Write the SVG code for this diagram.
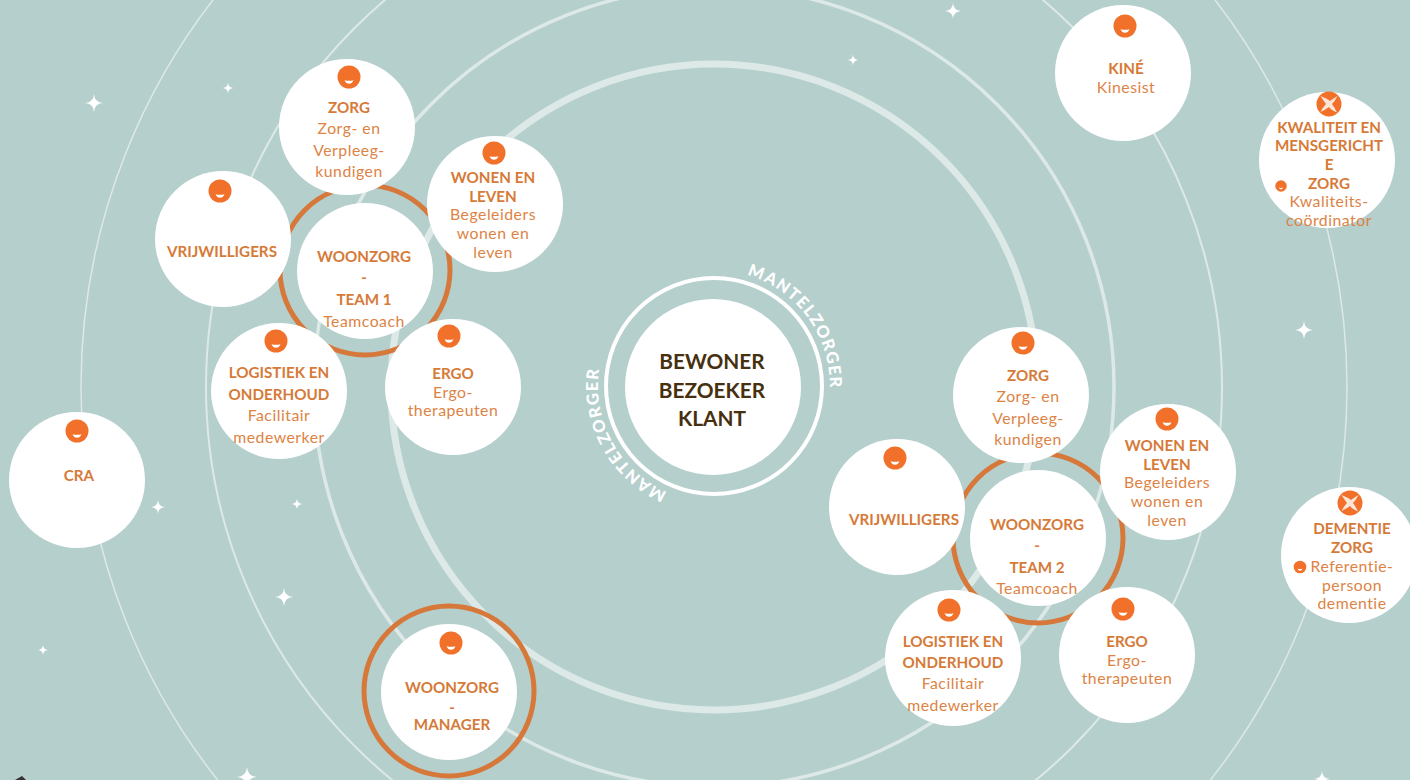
<svg xmlns="http://www.w3.org/2000/svg" width="1410" height="780" viewBox="0 0 1410 780">
<style>
text{font-family:Lato,"Liberation Sans",sans-serif;text-anchor:middle;fill:#dd8345;font-size:15.800px;letter-spacing:.5px}
.b{font-weight:700;font-size:15.2px;fill:#d67a38;letter-spacing:0}
.c{fill:#fff}
.ic{fill:#f1702a}
.r{fill:none;stroke:#dce9e7}
.or{fill:none;stroke:#d6783a;stroke-width:5}
.m{fill:#46300f;font-weight:700;font-size:20.8px;letter-spacing:0}
.mz{fill:#fff;font-weight:900;font-size:16.5px;text-anchor:start;letter-spacing:0}
.s{fill:#fff}
</style>
<defs>
<g id="smile"><circle r="11.5" class="ic"/><path d="M-4.500 3.200Q0 4.300 4.500 3.200Q3 6.800 0 6.800Q-3 6.800 -4.500 3.200Z" class="c"/></g>
<g id="cross"><circle r="12.500" class="ic"/><path d="M-8.500 -8Q-1 -5 1 -3Q5 -6 8.500 -8Q6 -3 3 0Q6 4 8 8.500Q2 6 0 3Q-4 6 -8.500 8Q-6 3 -3 0Q-6 -4 -8.500 -8Z" fill="#fbe6d8"/></g>
<path id="star" d="M0 -1Q.06 -.06 1 0Q.06 .06 0 1Q-.06 .06 -1 0Q-.06 -.06 0 -1Z" class="s"/>
<path id="a1" d="M747.100 274.800A116 116 0 0 1 830 387"/>
<path id="a2" d="M667 492A116 116 0 0 1 599.500 367.400"/>
</defs>
<rect width="1410" height="780" fill="#b5cfcd"/>
<g id="rings">
<circle class="r" cx="714" cy="387" r="323" stroke-width="7"/>
<circle class="r" cx="714" cy="387" r="400" stroke-width="3.500"/>
<circle class="r" cx="714" cy="387" r="508" stroke-width="2"/>
<circle class="r" cx="714" cy="387" r="633" stroke-width="1.500"/>
<circle cx="714" cy="386" r="108" fill="none" stroke="#fff" stroke-width="4"/>
</g>
<g id="stars">
<use href="#star" transform="translate(94 103) scale(9)"/>
<use href="#star" transform="translate(228 88) scale(5.500)"/>
<use href="#star" transform="translate(953 11) scale(8)"/>
<use href="#star" transform="translate(853 60) scale(5.500)"/>
<use href="#star" transform="translate(1304 330) scale(9)"/>
<use href="#star" transform="translate(158 507) scale(7)"/>
<use href="#star" transform="translate(297 504) scale(5.500)"/>
<use href="#star" transform="translate(284 597) scale(9)"/>
<use href="#star" transform="translate(43 650) scale(5)"/>
<use href="#star" transform="translate(247 777) scale(10)"/>
<use href="#star" transform="translate(1322 779) scale(8)"/>
</g>
<path d="M15 780L22 776L26 780Z" fill="#333"/>
<g id="mantelzorger">
<text class="mz"><textPath href="#a1" textLength="150" lengthAdjust="spacing">MANTELZORGER</textPath></text>
<text class="mz"><textPath href="#a2" textLength="150" lengthAdjust="spacing">MANTELZORGER</textPath></text>
</g>
<g id="center"><circle class="c" cx="713" cy="387" r="88"/>
<text class="m" x="712" y="369">BEWONER</text><text class="m" x="712" y="398">BEZOEKER</text><text class="m" x="712" y="426">KLANT</text></g>

<g id="team1"><circle class="or" cx="365" cy="270" r="85"/><circle class="c" cx="365" cy="271" r="68"/>
<text class="b" x="364" y="262">WOONZORG</text><text class="b" x="364" y="283">-</text><text class="b" x="364" y="305">TEAM 1</text><text x="364" y="327">Teamcoach</text></g>
<g id="zorg1"><circle class="c" cx="347" cy="127" r="68"/><use href="#smile" x="349" y="77"/>
<text class="b" x="349" y="113">ZORG</text><text x="349" y="134">Zorg- en</text><text x="349" y="156">Verpleeg-</text><text x="349" y="177">kundigen</text></g>
<g id="vrijw1"><circle class="c" cx="223" cy="239" r="68"/><use href="#smile" x="220" y="191"/><text class="b" x="222" y="257">VRIJWILLIGERS</text></g>
<g id="wonen1"><circle class="c" cx="495" cy="204" r="68"/><use href="#smile" x="494" y="153"/>
<text class="b" x="493" y="183">WONEN EN</text><text class="b" x="493" y="202">LEVEN</text><text x="493" y="220">Begeleiders</text><text x="493" y="239">wonen en</text><text x="493" y="258">leven</text></g>
<g id="logi1"><circle class="c" cx="279" cy="391" r="68"/><use href="#smile" x="276" y="341"/>
<text class="b" x="279" y="378">LOGISTIEK EN</text><text class="b" x="279" y="400">ONDERHOUD</text><text x="279" y="421">Facilitair</text><text x="279" y="443">medewerker</text></g>
<g id="ergo1"><circle class="c" cx="453" cy="387" r="68"/><use href="#smile" x="449" y="336"/>
<text class="b" x="453" y="379">ERGO</text><text x="453" y="398">Ergo-</text><text x="453" y="416">therapeuten</text></g>
<g id="cra"><circle class="c" cx="77" cy="480" r="68"/><use href="#smile" x="77" y="431"/><text class="b" x="79" y="481">CRA</text></g>
<g id="manager"><circle class="or" cx="449" cy="691" r="85"/><circle class="c" cx="449" cy="692" r="68"/><use href="#smile" x="451" y="643"/>
<text class="b" x="452" y="693">WOONZORG</text><text class="b" x="452" y="713">-</text><text class="b" x="452" y="730">MANAGER</text></g>

<g id="team2"><circle class="or" cx="1038" cy="538" r="85"/><circle class="c" cx="1038" cy="538" r="68"/>
<text class="b" x="1037" y="530">WOONZORG</text><text class="b" x="1037" y="551">-</text><text class="b" x="1037" y="573">TEAM 2</text><text x="1037" y="594">Teamcoach</text></g>
<g id="zorg2"><circle class="c" cx="1021" cy="395" r="68"/><use href="#smile" x="1023" y="343"/>
<text class="b" x="1028" y="381">ZORG</text><text x="1028" y="402">Zorg- en</text><text x="1028" y="424">Verpleeg-</text><text x="1028" y="445">kundigen</text></g>
<g id="vrijw2"><circle class="c" cx="897" cy="507" r="68"/><use href="#smile" x="895" y="458"/><text class="b" x="904" y="525">VRIJWILLIGERS</text></g>
<g id="wonen2"><circle class="c" cx="1168" cy="472" r="68"/><use href="#smile" x="1167" y="419"/>
<text class="b" x="1167" y="451">WONEN EN</text><text class="b" x="1167" y="470">LEVEN</text><text x="1167" y="488">Begeleiders</text><text x="1167" y="507">wonen en</text><text x="1167" y="526">leven</text></g>
<g id="logi2"><circle class="c" cx="953" cy="658" r="68"/><use href="#smile" x="949" y="610"/>
<text class="b" x="953" y="647">LOGISTIEK EN</text><text class="b" x="953" y="668">ONDERHOUD</text><text x="953" y="689">Facilitair</text><text x="953" y="711">medewerker</text></g>
<g id="ergo2"><circle class="c" cx="1127" cy="655" r="68"/><use href="#smile" x="1123" y="609"/>
<text class="b" x="1127" y="647">ERGO</text><text x="1127" y="666">Ergo-</text><text x="1127" y="684">therapeuten</text></g>
<g id="kine"><circle class="c" cx="1123" cy="73" r="68"/><use href="#smile" x="1125" y="26"/><text class="b" x="1126" y="74">KINÉ</text><text x="1126" y="93">Kinesist</text></g>
<g id="kwal"><circle class="c" cx="1327" cy="160" r="68"/><use href="#cross" x="1329" y="104"/><use href="#smile" transform="translate(1281 186) scale(.5)"/>
<text class="b" x="1329" y="133">KWALITEIT EN</text><text class="b" x="1329" y="151">MENSGERICHT</text><text class="b" x="1329" y="170">E</text><text class="b" x="1329" y="189">ZORG</text><text x="1329" y="207">Kwaliteits-</text><text x="1329" y="226">coördinator</text></g>
<g id="dem"><circle class="c" cx="1349" cy="555" r="68"/><use href="#cross" x="1350" y="503"/><use href="#smile" transform="translate(1300 567) scale(.55)"/>
<text class="b" x="1352" y="534">DEMENTIE</text><text class="b" x="1352" y="553">ZORG</text><text x="1352" y="572">Referentie-</text><text x="1352" y="591">persoon</text><text x="1352" y="609">dementie</text></g>
</svg>
